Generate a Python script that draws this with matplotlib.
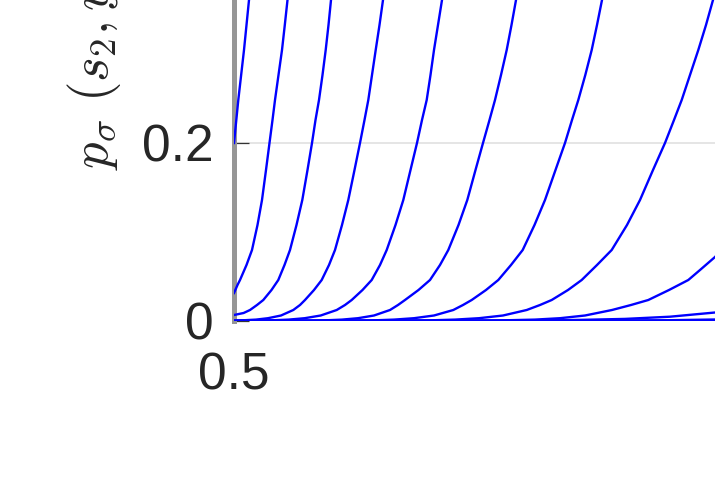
import matplotlib
matplotlib.use('Agg')
import matplotlib.pyplot as plt

plt.rcParams['mathtext.fontset'] = 'cm'
plt.rcParams['font.family'] = ['Liberation Sans', 'DejaVu Sans']

# ---- data ----
c1_x = [0.5, 0.50215, 0.505, 0.5075, 0.51]
c1_y = [0.2, 0.24831, 0.30449, 0.36067, 0.41685]

c2_x = [0.5, 0.50175, 0.503, 0.50625, 0.509, 0.51175, 0.514, 0.516, 0.51775, 0.51925,
        0.5205, 0.52225, 0.524, 0.5254, 0.52675, 0.52925]
c2_y = [0.03146, 0.04045, 0.04607, 0.06292, 0.07978, 0.10787, 0.13596, 0.16966, 0.2, 0.22584,
        0.24831, 0.2764, 0.30449, 0.33258, 0.36067, 0.41685]

c3_x = [0.5, 0.5048, 0.508, 0.5115, 0.51465, 0.51875, 0.52215, 0.52525, 0.528, 0.53125,
        0.53415, 0.53675, 0.539, 0.54075, 0.5425, 0.54425, 0.54585, 0.54725, 0.5485, 0.551]
c3_y = [0.00674, 0.00899, 0.01236, 0.01798, 0.0236, 0.03483, 0.04607, 0.06292, 0.07978, 0.10787,
        0.13596, 0.16966, 0.2, 0.22584, 0.24831, 0.2764, 0.30449, 0.33258, 0.36067, 0.41685]

c4_x = [0.5, 0.5045, 0.511, 0.517, 0.5235, 0.52965, 0.533, 0.5355, 0.54, 0.54385, 0.5475,
        0.5505, 0.554, 0.55715, 0.56025, 0.563, 0.56525, 0.56715, 0.569, 0.57085, 0.57275,
        0.5745, 0.578]
c4_y = [0.00039, 0.00079, 0.00157, 0.00315, 0.00618, 0.01236, 0.01798, 0.0236, 0.03483, 0.04607,
        0.06292, 0.07978, 0.10787, 0.13596, 0.16966, 0.2, 0.22584, 0.24831, 0.2764, 0.30449,
        0.33258, 0.36067, 0.41685]

c5_x = [0.5, 0.51135, 0.51935, 0.52735, 0.53535, 0.54335, 0.55135, 0.5555, 0.55885, 0.56425,
        0.56885, 0.573, 0.57635, 0.58075, 0.58465, 0.58825, 0.5915, 0.594, 0.59635, 0.59825,
        0.6, 0.602, 0.604, 0.608]
c5_y = [0.00015, 0.00039, 0.00079, 0.00157, 0.00315, 0.00618, 0.01236, 0.01798, 0.0236, 0.03483,
        0.04607, 0.06292, 0.07978, 0.10787, 0.13596, 0.16966, 0.2, 0.22584, 0.24831, 0.2764,
        0.30449, 0.33258, 0.36067, 0.41685]

c6_x = [0.5, 0.522, 0.53, 0.538, 0.546, 0.554, 0.562, 0.57, 0.578, 0.582, 0.5855, 0.59225,
        0.598, 0.603, 0.60715, 0.61225, 0.61665, 0.62075, 0.6245, 0.62775, 0.6305, 0.6335,
        0.63635, 0.63875, 0.641, 0.646]
c6_y = [0.0, 0.0001, 0.0002, 0.00039, 0.00079, 0.00157, 0.00315, 0.00618, 0.01236, 0.01798,
        0.0236, 0.03483, 0.04607, 0.06292, 0.07978, 0.10787, 0.13596, 0.16966, 0.2, 0.22584,
        0.24831, 0.2764, 0.30449, 0.33258, 0.36067, 0.41685]

c7_x = [0.5, 0.5405, 0.5505, 0.5605, 0.5705, 0.58, 0.59, 0.6, 0.60965, 0.6145, 0.61885, 0.626,
        0.63215, 0.6385, 0.64435, 0.65025, 0.6555, 0.66075, 0.6655, 0.669, 0.67215, 0.67565,
        0.67885, 0.6815, 0.684, 0.6895]
c7_y = [0.0, 0.0001, 0.0002, 0.00039, 0.00079, 0.00157, 0.00315, 0.00618, 0.01236, 0.01798,
        0.0236, 0.03483, 0.04607, 0.06292, 0.07978, 0.10787, 0.13596, 0.16966, 0.2, 0.22584,
        0.24831, 0.2764, 0.30449, 0.33258, 0.36067, 0.41685]

c8_x = [0.5, 0.5625, 0.5745, 0.5865, 0.5985, 0.6105, 0.6225, 0.6345, 0.64635, 0.653, 0.65885,
        0.667, 0.67385, 0.6815, 0.68885, 0.6965, 0.703, 0.7095, 0.7155, 0.72, 0.72385, 0.728,
        0.73215, 0.736, 0.7395, 0.7465]
c8_y = [0.0, 0.0001, 0.0002, 0.00039, 0.00079, 0.00157, 0.00315, 0.00618, 0.01236, 0.01798,
        0.0236, 0.03483, 0.04607, 0.06292, 0.07978, 0.10787, 0.13596, 0.16966, 0.2, 0.22584,
        0.24831, 0.2764, 0.30449, 0.33258, 0.36067, 0.41685]

c9_x = [0.5, 0.593, 0.608, 0.6205, 0.6355, 0.6505, 0.663, 0.6755, 0.689, 0.6985, 0.70715,
        0.7175, 0.72715, 0.733, 0.7405, 0.748]
c9_y = [0.0, 0.0001, 0.0002, 0.00039, 0.00079, 0.00157, 0.00315, 0.00618, 0.01236, 0.01798,
        0.0236, 0.03483, 0.04607, 0.0573, 0.07191, 0.09101]

c10_x = [0.5, 0.583, 0.6055, 0.628, 0.6505, 0.673, 0.6955, 0.718, 0.7405, 0.753]
c10_y = [0.0, 0.00007, 0.00014, 0.00028, 0.00056, 0.00124, 0.00236, 0.00483, 0.00955, 0.0135]

c11_x = [0.5, 0.663, 0.693, 0.718, 0.7405, 0.753]
c11_y = [0.0, 0.00017, 0.00045, 0.0009, 0.00169, 0.0024]

c12_x = [0.5, 0.753]
c12_y = [0.0, 0.0004]

c13_x = [0.5, 0.753]
c13_y = [0.0, 0.0]

y_ticks = [0, 0.2, 0.4, 0.6, 0.8, 1.0]
y_ticklabels = ['0', '0.2', '0.4', '0.6', '0.8', '1']
x_ticks = [0.5, 1.0]
x_ticklabels = ['0.5', '1']
y_label = r'$p_\sigma\ (s_2, y_2)$'

# ---- figure ----
W, H = 715, 479
fig = plt.figure(figsize=(W / 100, H / 100), dpi=100)
ax = fig.add_axes([234 / W, 158 / H, 1000 / W, 890 / H])

series = [(c1_x, c1_y), (c2_x, c2_y), (c3_x, c3_y), (c4_x, c4_y), (c5_x, c5_y),
          (c6_x, c6_y), (c7_x, c7_y), (c8_x, c8_y), (c9_x, c9_y), (c10_x, c10_y),
          (c11_x, c11_y), (c12_x, c12_y), (c13_x, c13_y)]
for xs, ys in series:
    ax.plot(xs, ys, color='#0000ff', lw=1.7, zorder=3, solid_joinstyle='round')

ax.set_xlim(0.5, 1.0)
ax.set_ylim(0, 1.0)
ax.set_yticks(y_ticks)
ax.set_yticklabels(y_ticklabels)
ax.set_xticks(x_ticks)
ax.set_xticklabels(x_ticklabels)

for s in ['top', 'right', 'bottom']:
    ax.spines[s].set_visible(False)
ax.spines['left'].set_color('#969696')
ax.spines['left'].set_linewidth(3.6)
ax.spines['left'].set_zorder(2.5)

ax.tick_params(axis='y', direction='in', length=11, width=0.9, color='#333333',
               labelsize=37, pad=15, labelcolor='#262626')
ax.tick_params(axis='x', direction='in', length=0, labelsize=37, pad=22,
               labelcolor='#262626')

ax.yaxis.grid(True, color='#e3e3e3', lw=1.3)
ax.set_axisbelow(True)

fig.text(95 / W, 1 - 170 / H, y_label, rotation=90, ha='center', va='bottom',
         fontsize=38, color='#262626')

fig.savefig('out.png', dpi=100)
